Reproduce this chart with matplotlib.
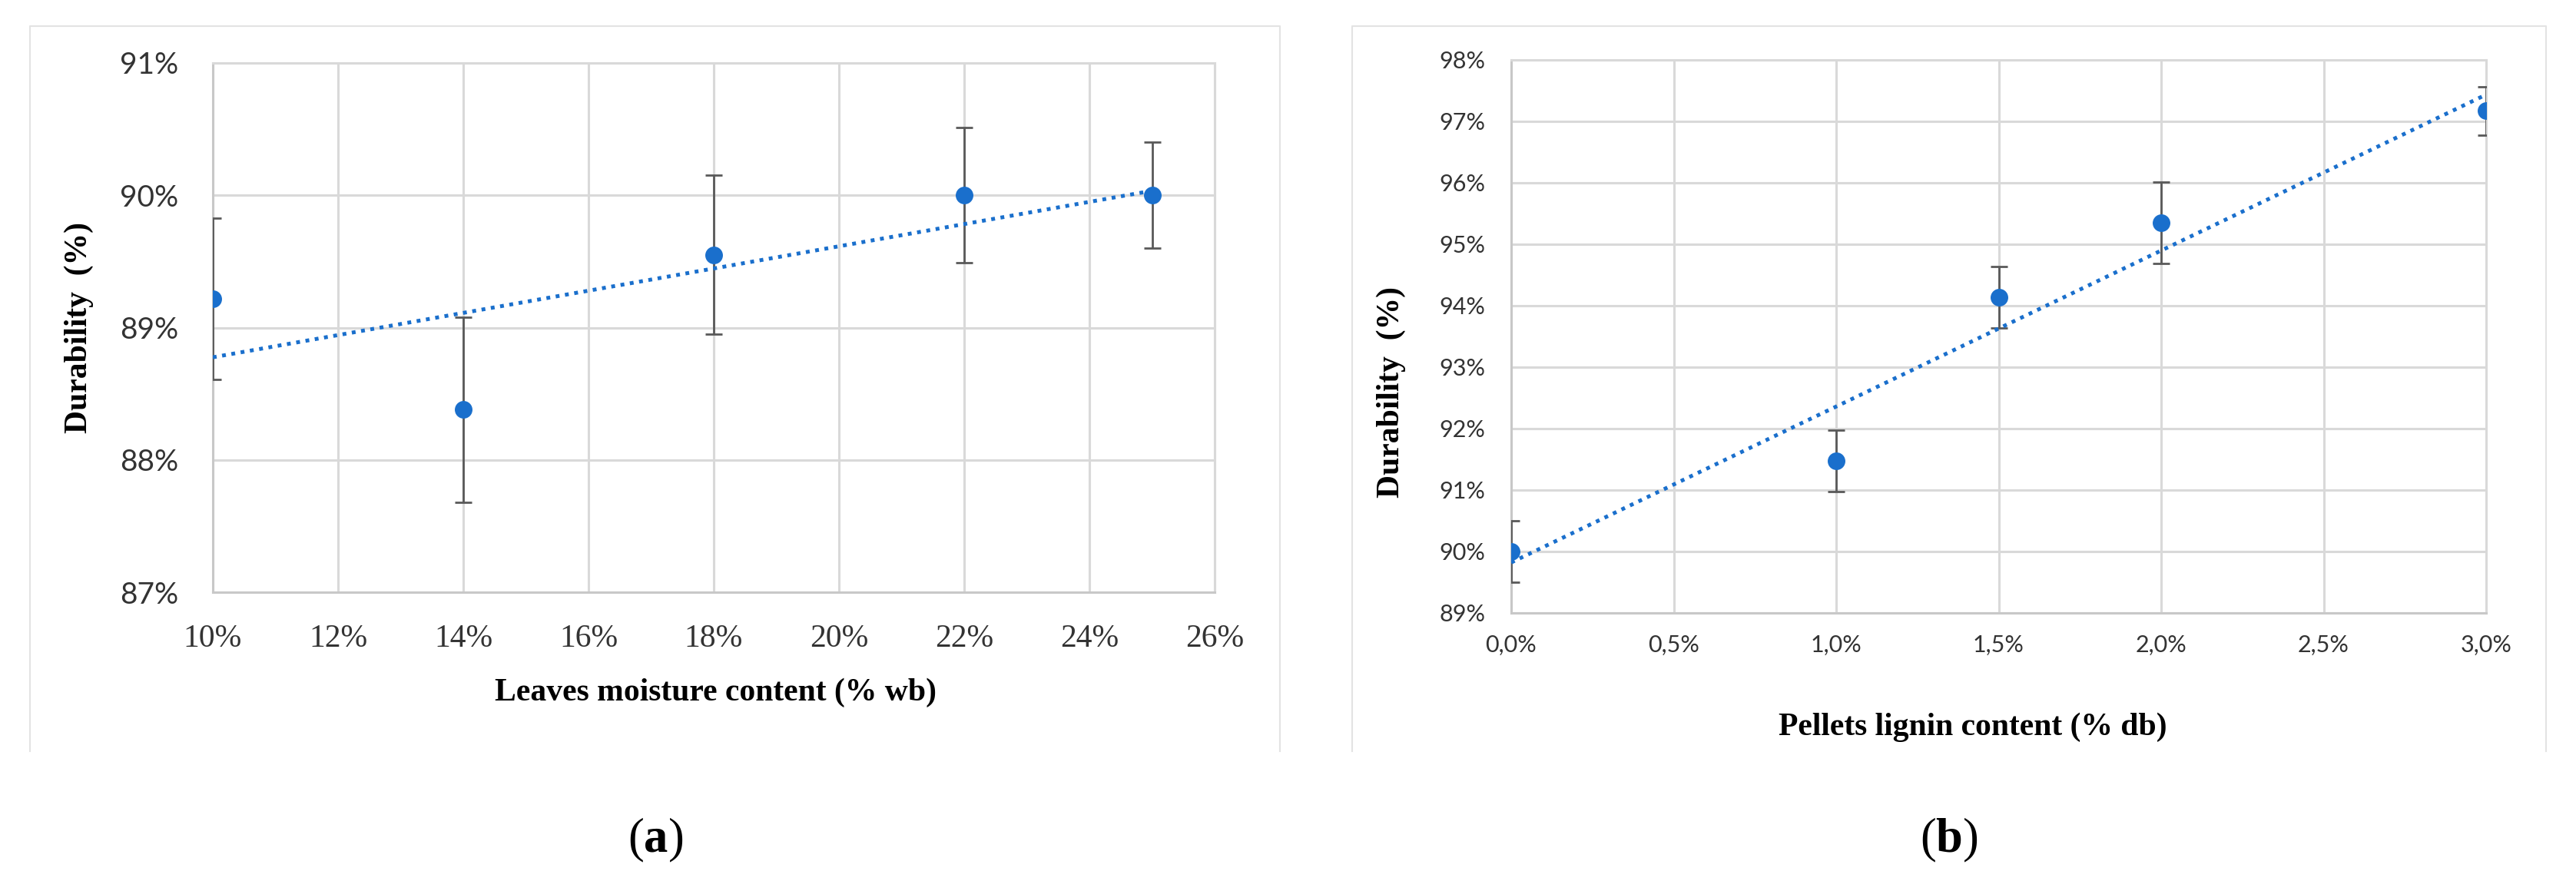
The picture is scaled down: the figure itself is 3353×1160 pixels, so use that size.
import numpy as np
import matplotlib.pyplot as plt
from matplotlib.lines import Line2D
from matplotlib.ticker import FuncFormatter

plt.rcParams['mathtext.fontset'] = 'custom'
plt.rcParams['mathtext.rm'] = 'Liberation Serif'
plt.rcParams['mathtext.bf'] = 'Liberation Serif:bold'

W, H = 3353, 1160

# (a) durability vs leaves moisture content
moisture = [10, 14, 18, 22, 25]
durability_a = [89.22, 88.38, 89.55, 90.00, 90.00]
err_a = [0.61, 0.70, 0.60, 0.51, 0.40]
xticks_a = [10, 12, 14, 16, 18, 20, 22, 24, 26]
yticks_a = [87, 88, 89, 90, 91]

# (b) durability vs pellets lignin content
lignin = [0.0, 1.0, 1.5, 2.0, 3.0]
durability_b = [90.00, 91.48, 94.14, 95.35, 97.17]
err_b = [0.50, 0.50, 0.50, 0.66, 0.39]
xticks_b = [0.0, 0.5, 1.0, 1.5, 2.0, 2.5, 3.0]
yticks_b = [89, 90, 91, 92, 93, 94, 95, 96, 97, 98]

BLUE = '#1a6fcc'
GRID = '#d9d9d9'


def fx(px):
    return px / W


def fy(py):
    return 1 - py / H


def add_axes_px(fig, x0, y0, x1, y1):
    return fig.add_axes([fx(x0), fy(y1), (x1 - x0) / W, (y1 - y0) / H])


def frame(fig, x0, x1, y0=34, y1=978):
    fig.add_artist(Line2D([fx(x0), fx(x0), fx(x1), fx(x1)],
                          [fy(y1), fy(y0), fy(y0), fy(y1)],
                          color='#e3e3e3', lw=1.5))


def draw_panel(ax, x, y, err, xticks, yticks, xfmt, xfont, xsize, yfont, ysize, xpad, ypad):
    ax.errorbar(x, y, yerr=err, fmt='none', ecolor='#595959', elinewidth=2.0,
                capsize=8, capthick=2.0, zorder=3)
    ax.plot(x, y, 'o', color=BLUE, ms=15.5, zorder=4)
    # linear trendline
    coef = np.polyfit(x, y, 1)
    xs = np.array([min(x), max(x)])
    ax.plot(xs, np.polyval(coef, xs), color=BLUE, lw=3.6, ls=(0, (1, 1.45)), zorder=5)

    ax.set_xlim(xticks[0], xticks[-1])
    ax.set_ylim(yticks[0], yticks[-1])
    ax.set_xticks(xticks)
    ax.set_yticks(yticks)
    ax.xaxis.set_major_formatter(FuncFormatter(xfmt))
    ax.yaxis.set_major_formatter(FuncFormatter(lambda v, p: f'{v:.0f}%'))
    ax.grid(True, color=GRID, lw=2.2)
    ax.set_axisbelow(True)
    for s in ax.spines.values():
        s.set_color(GRID)
        s.set_linewidth(2.2)
    ax.spines['left'].set_color('#c8c8c8')
    ax.spines['bottom'].set_color('#c8c8c8')
    ax.tick_params(length=0, colors='#333333')
    ax.tick_params(axis='x', pad=xpad)
    ax.tick_params(axis='y', pad=ypad)
    for t in ax.get_xticklabels():
        t.set_fontfamily(xfont)
        t.set_fontsize(xsize)
    for t in ax.get_yticklabels():
        t.set_fontfamily(yfont)
        t.set_fontsize(ysize)


fig = plt.figure(figsize=(W / 100, H / 100), dpi=100)

frame(fig, 39, 1666)
frame(fig, 1760, 3314)

ax1 = add_axes_px(fig, 277, 82, 1581, 771)
draw_panel(ax1, moisture, durability_a, err_a, xticks_a, yticks_a,
           lambda v, p: f'{v:.0f}%', 'Liberation Serif', 30, 'Lato', 28, 30, 32)

ax2 = add_axes_px(fig, 1967, 78, 3236, 798)
draw_panel(ax2, lignin, durability_b, err_b, xticks_b, yticks_b,
           lambda v, p: f'{v:.1f}%'.replace('.', ','), 'Lato', 22, 'Lato', 22, 20, 24)

lab = dict(family='Liberation Serif', fontweight='bold', fontsize=30, color='black')
fig.text(fx(103), fy(426), 'Durability  (%)', rotation=90, ha='center', va='center', **lab)
fig.text(fx(931), fy(902), 'Leaves moisture content (% wb)', ha='center', va='center', **lab)
fig.text(fx(1811), fy(510), 'Durability  (%)', rotation=90, ha='center', va='center', **lab)
fig.text(fx(2568), fy(947), 'Pellets lignin content (% db)', ha='center', va='center', **lab)

cap = dict(family='Liberation Serif', fontsize=45, color='black', ha='center', va='center')
fig.text(fx(853), fy(1094), r'($\mathbf{a}$)', **cap)
fig.text(fx(2537), fy(1094), r'($\mathbf{b}$)', **cap)

fig.savefig('out.png', dpi=100, facecolor='white')
